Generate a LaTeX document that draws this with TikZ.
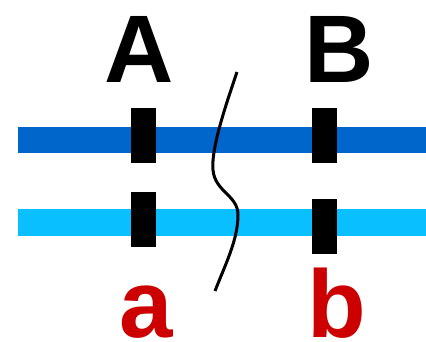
\documentclass[tikz,border=0pt]{standalone}
\usepackage{fontspec}
\setmainfont{Liberation Sans}
\usetikzlibrary{calc, positioning}

\definecolor{topblue}{HTML}{0066CC}
\definecolor{lowblue}{HTML}{0ABFFF}
\definecolor{lowred}{HTML}{CC0000}

\begin{document}
\begin{tikzpicture}[x=1pt, y=-1pt,
  tick/.style={draw=none, fill=black, minimum width=25pt, minimum height=55pt, inner sep=0pt},
  letter/.style={anchor=base, inner sep=0pt, font=\fontsize{96}{96}\selectfont\bfseries}]
\useasboundingbox (0,0) rectangle (426,341);

\def\bandw{26.5}

\coordinate (T1) at (18,140);
\coordinate (T2) at (426,140);
\coordinate (L1) at (18,222.5);
\coordinate (L2) at (426,222.5);

\draw[topblue, line width=\bandw pt] (T1) -- (T2);
\draw[lowblue, line width=\bandw pt] (L1) -- (L2);

\node[tick] (Atop) at (143.5,135.5) {};
\node[tick] (Alow) at (143.5,219.5) {};
\node[tick] (Btop) at (324.5,135.5) {};
\node[tick] (Blow) at (324.5,226.5) {};

\node[letter] (A) at (139,82) {A};
\node[letter] (B) at (339,82) {B};
\node[letter, text=lowred] (a) at (146.5,337) {a};
\node[letter, text=lowred] (b) at (337,337) {b};

\draw[line width=3pt] (237,72) .. controls (224,110) and (211,150) .. (213,170)
  .. controls (215,192) and (238,195) .. (238,215)
  .. controls (238,240) and (225,265) .. (215,291);
\end{tikzpicture}
\end{document}
